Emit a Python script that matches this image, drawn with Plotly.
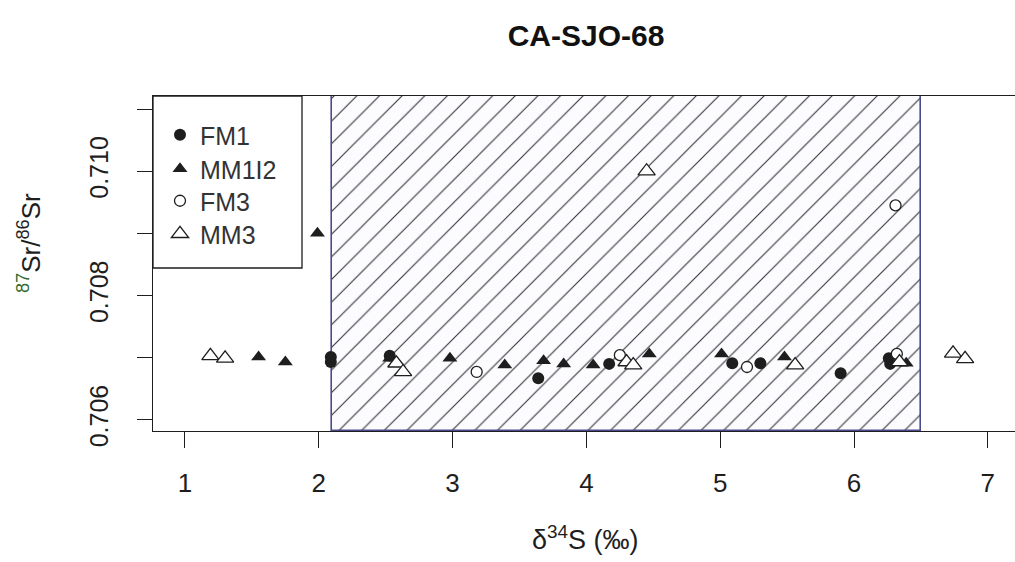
import plotly.graph_objects as go

# --- data: delta34S (permil) vs 87Sr/86Sr for each sample group ---
fm1_x = [2.09, 2.09, 2.53, 3.64, 4.17, 5.09, 5.30, 5.90, 6.26, 6.27]
fm1_y = [0.70693, 0.70701, 0.70703, 0.70667, 0.70690, 0.70691, 0.70691, 0.70675, 0.70699, 0.70690]

mm1i2_x = [1.55, 1.75, 1.99, 2.53, 2.98, 3.39, 3.68, 3.83, 4.05, 4.47, 5.01, 5.48, 6.39]
mm1i2_y = [0.70701, 0.70693, 0.70900, 0.70699, 0.70699, 0.70688, 0.70695, 0.70690, 0.70688,
           0.70706, 0.70706, 0.70701, 0.70691]

fm3_x = [3.18, 4.25, 5.20, 6.31, 6.32]
fm3_y = [0.70677, 0.70704, 0.70685, 0.70945, 0.70706]

mm3_x = [1.19, 1.30, 2.58, 2.63, 4.30, 4.35, 4.45, 5.56, 6.34, 6.74, 6.83]
mm3_y = [0.70703, 0.70699, 0.70691, 0.70677, 0.70693, 0.70688, 0.71000, 0.70688, 0.70693,
         0.70707, 0.70698]

# shaded delta34S window
region_lo, region_hi = 2.1, 6.5

x_ticks = [1, 2, 3, 4, 5, 6, 7]
y_ticks = [0.706, 0.708, 0.710]
y_ticklabels = ["0.706", "0.708", "0.710"]
y_minor_step = 0.001

X_RANGE = [0.761, 7.203]
Y_RANGE = [0.70582, 0.71121]

W, H = 1015, 562
M_L, M_R, M_T, M_B = 153, 0, 96, 131
FONT = "Liberation Sans, Arial, sans-serif"
INK = "#1e1e1e"


def px_to_paper(px, py):
    """Convert figure pixel position to paper coordinates."""
    return ((px - M_L) / (W - M_L - M_R), (H - M_B - py) / (H - M_T - M_B))


fig = go.Figure()

# hatched window drawn as a single bar spanning the full y range
fig.add_trace(go.Bar(
    x=[(region_lo + region_hi) / 2],
    width=[region_hi - region_lo],
    base=[Y_RANGE[0]],
    y=[Y_RANGE[1] - Y_RANGE[0]],
    marker=dict(
        color="white",
        line=dict(color="#4a4a8c", width=1.6),
        pattern=dict(shape="/", fgcolor="#34343f", bgcolor="#fcfcfe",
                     size=16, solidity=0.07, fillmode="replace"),
    ),
    showlegend=False,
    hoverinfo="skip",
))

series = [
    ("FM1", fm1_x, fm1_y, dict(symbol="circle", size=12, color=INK,
                                line=dict(width=0))),
    ("MM1I2", mm1i2_x, mm1i2_y, dict(symbol="triangle-up", size=13, color=INK,
                                      line=dict(width=0))),
    ("FM3", fm3_x, fm3_y, dict(symbol="circle", size=11, color="white",
                                line=dict(color=INK, width=1.3))),
    ("MM3", mm3_x, mm3_y, dict(symbol="triangle-up", size=15, color="white",
                                line=dict(color=INK, width=1.3))),
]
# one legend per series so the entries can be spaced freely
legend_ids = ["legend", "legend2", "legend3", "legend4"]
legend_rows_px = [135, 169, 201, 234]

for (name, xs, ys, mk), lid in zip(series, legend_ids):
    fig.add_trace(go.Scatter(
        x=xs, y=ys, mode="markers", name=name, marker=mk,
        cliponaxis=False, legend=lid,
    ))

legend_layout = {}
for lid, row in zip(legend_ids, legend_rows_px):
    lx, ly = px_to_paper(160, row)
    legend_layout[lid] = dict(
        x=lx, y=ly, xanchor="left", yanchor="middle",
        bgcolor="rgba(0,0,0,0)", borderwidth=0,
        font=dict(family=FONT, size=25, color="#333"), itemwidth=30,
    )

# legend frame
lx0, ly0 = px_to_paper(153, 268)
lx1, ly1 = px_to_paper(302, 96)
fig.add_shape(type="rect", xref="paper", yref="paper",
              x0=lx0, x1=lx1, y0=ly0, y1=ly1,
              line=dict(color=INK, width=1.3), fillcolor="white", layer="below")

# axis titles
ytx, yty = px_to_paper(29, 243)
fig.add_annotation(
    x=ytx, y=yty, xref="paper", yref="paper", showarrow=False, textangle=-90,
    xanchor="center", yanchor="middle",
    text="<span style='color:#2f6a2f'><sup>87</sup></span>Sr/<sup>86</sup>Sr",
    font=dict(family=FONT, size=26, color=INK),
)
xtx, xty = px_to_paper(585, 538)
fig.add_annotation(
    x=xtx, y=xty, xref="paper", yref="paper", showarrow=False,
    xanchor="center", yanchor="middle",
    text="δ<sup>34</sup>S (‰)",
    font=dict(family=FONT, size=27, color=INK),
)

fig.update_layout(
    width=W, height=H,
    margin=dict(l=M_L, r=M_R, t=M_T, b=M_B),
    paper_bgcolor="white", plot_bgcolor="white",
    title=dict(text="<b>CA-SJO-68</b>", x=586 / W, xanchor="center",
               y=1 - 35 / H, yanchor="middle",
               font=dict(family=FONT, size=30, color="#111")),
    showlegend=True,
    bargap=0,
    **legend_layout,
)
fig.update_xaxes(
    range=X_RANGE, tickvals=x_ticks, ticktext=[str(v) for v in x_ticks],
    showgrid=False, zeroline=False, showline=True, linecolor=INK, linewidth=1.3,
    mirror=True, ticks="outside", ticklen=16, tickwidth=1.3, tickcolor=INK,
    ticklabelstandoff=13,
    tickfont=dict(family=FONT, size=26, color=INK),
)
fig.update_yaxes(
    range=Y_RANGE, tickvals=y_ticks, ticktext=y_ticklabels, tickangle=-90,
    showgrid=False, zeroline=False, showline=True, linecolor=INK, linewidth=1.3,
    ticks="outside", ticklen=15, tickwidth=1.3, tickcolor=INK,
    minor=dict(tick0=y_ticks[0], dtick=y_minor_step, ticks="outside",
               ticklen=15, tickwidth=1.3, tickcolor=INK, showgrid=False),
    ticklabelstandoff=19,
    tickfont=dict(family=FONT, size=25, color=INK),
)

fig.write_html("out.html")
